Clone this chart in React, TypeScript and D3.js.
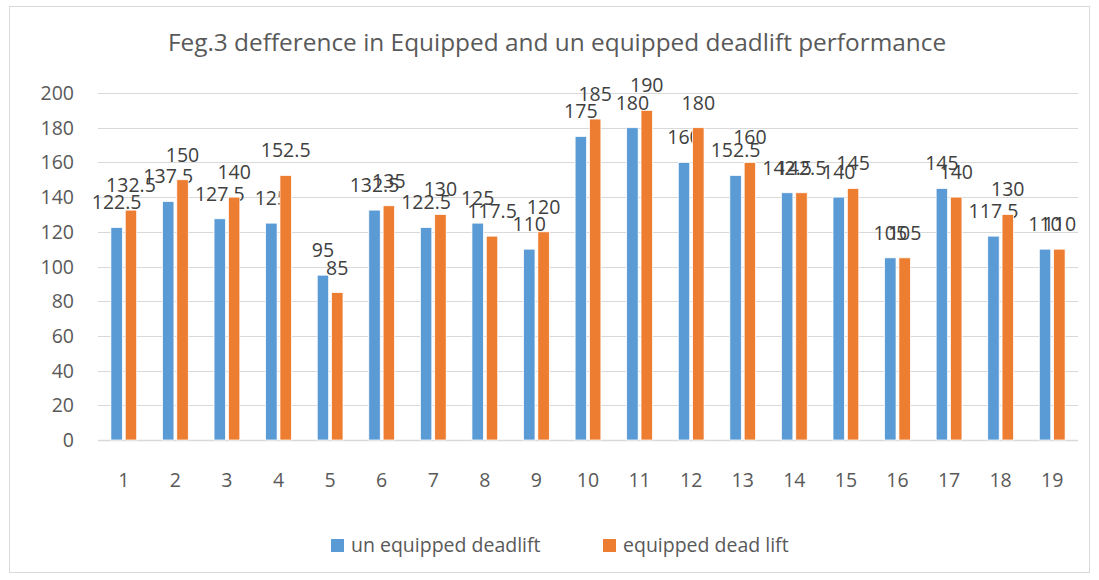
import { useEffect, useRef } from 'react'
import * as d3 from 'd3'

const categories = ['1', '2', '3', '4', '5', '6', '7', '8', '9', '10', '11', '12', '13', '14', '15', '16', '17', '18', '19']
const unEquipped = [122.5, 137.5, 127.5, 125, 95, 132.5, 122.5, 125, 110, 175, 180, 160, 152.5, 142.5, 140, 105, 145, 117.5, 110]
const equipped = [132.5, 150, 140, 152.5, 85, 135, 130, 117.5, 120, 185, 190, 180, 160, 142.5, 145, 105, 140, 130, 110]
const seriesNames = ['un equipped deadlift', 'equipped dead lift']
const seriesColours = ['#5b9bd5', '#ed7d31']
const yTicks = [0, 20, 40, 60, 80, 100, 120, 140, 160, 180, 200]
const title = 'Feg.3 defference in Equipped and un equipped deadlift performance'

const W = 1099
const H = 580
const FONT = '"Open Sans", "Liberation Sans", sans-serif'
const FS = 19.5

function App() {
  const svgRef = useRef<SVGSVGElement>(null)

  useEffect(() => {
    const svg = d3.select(svgRef.current)
    svg.selectAll('*').remove()

    // chart frame
    svg.append('rect')
      .attr('x', 9.5).attr('y', 6.5)
      .attr('width', 1080).attr('height', 566)
      .attr('fill', '#fff')
      .attr('stroke', '#d9d9d9')

    svg.append('text')
      .attr('x', 557).attr('y', 51)
      .attr('text-anchor', 'middle')
      .attr('font-family', FONT)
      .attr('font-size', 24.4)
      .attr('fill', '#595959')
      .text(title)

    const x = d3.scaleBand<string>().domain(categories).range([98, 1078])
      .paddingInner(0.5).paddingOuter(0.25)
    const xs = d3.scaleBand<number>().domain([0, 1]).range([0, x.bandwidth()])
      .paddingInner(0.2)
    const y = d3.scaleLinear().domain([0, 200]).range([440, 93])

    // gridlines
    svg.append('g').selectAll('line')
      .data(yTicks)
      .join('line')
      .attr('x1', 98).attr('x2', 1078)
      .attr('y1', d => Math.round(y(d)) + 0.5)
      .attr('y2', d => Math.round(y(d)) + 0.5)
      .attr('stroke', '#d9d9d9')
      .attr('stroke-width', d => (d === 0 ? 1.5 : 1))

    svg.append('g').selectAll('text')
      .data(yTicks)
      .join('text')
      .attr('x', 74)
      .attr('y', d => y(d) + 7)
      .attr('text-anchor', 'end')
      .attr('font-family', FONT)
      .attr('font-size', FS)
      .attr('fill', '#595959')
      .text(d => d)

    svg.append('g').selectAll('text')
      .data(categories)
      .join('text')
      .attr('x', d => (x(d) as number) + x.bandwidth() / 2)
      .attr('y', 487)
      .attr('text-anchor', 'middle')
      .attr('font-family', FONT)
      .attr('font-size', FS)
      .attr('fill', '#595959')
      .text(d => d)

    const series = [unEquipped, equipped]
    series.forEach((vals, si) => {
      const g = svg.append('g')
      g.selectAll('rect')
        .data(vals)
        .join('rect')
        .attr('x', (_, i) => (x(categories[i]) as number) + (xs(si) as number))
        .attr('y', d => y(d))
        .attr('width', xs.bandwidth())
        .attr('height', d => y(0) - y(d))
        .attr('fill', seriesColours[si])
        .attr('stroke', '#fff')
        .attr('stroke-width', 0.75)

      g.selectAll('text')
        .data(vals)
        .join('text')
        .attr('x', (_, i) => (x(categories[i]) as number) + (xs(si) as number) + xs.bandwidth() / 2)
        .attr('y', d => y(d) - 18)
        .attr('text-anchor', 'middle')
        .attr('font-family', FONT)
        .attr('font-size', FS)
        .attr('fill', '#404040')
        .text(d => d)
    })

    // legend
    const legendX = [331, 603]
    seriesNames.forEach((name, i) => {
      svg.append('rect')
        .attr('x', legendX[i]).attr('y', 539)
        .attr('width', 13).attr('height', 13)
        .attr('fill', seriesColours[i])
      svg.append('text')
        .attr('x', legendX[i] + 20).attr('y', 552)
        .attr('font-family', FONT)
        .attr('font-size', FS)
        .attr('fill', '#595959')
        .text(name)
    })
  }, [])

  return (
    <svg
      ref={svgRef}
      width={W}
      height={H}
      style={{ position: 'absolute', left: 0, top: 0 }}
    />
  )
}

export default App
